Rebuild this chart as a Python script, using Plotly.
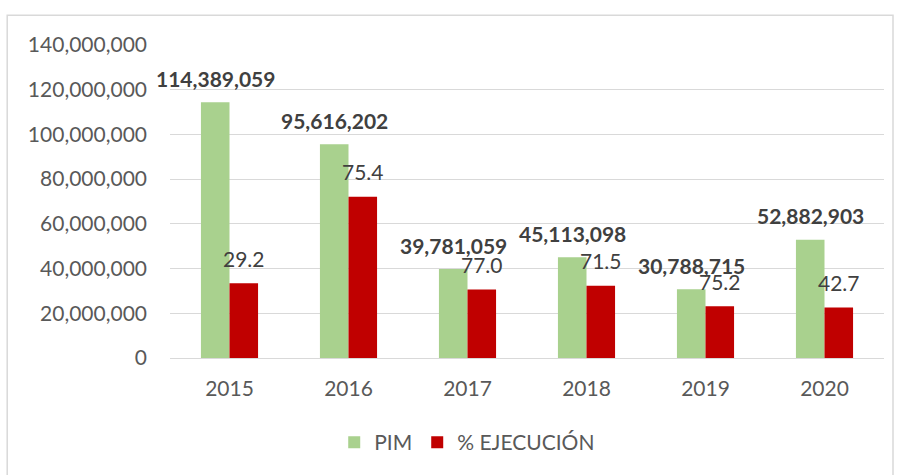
import plotly.graph_objects as go

years = ["2015", "2016", "2017", "2018", "2019", "2020"]
pim = [114389059, 95616202, 39781059, 45113098, 30788715, 52882903]
# executed amounts (red bar heights)
ejec_amount = [33400000, 72100000, 30600000, 32300000, 23200000, 22600000]
ejec_pct = [29.2, 75.4, 77.0, 71.5, 75.2, 42.7]
y_ticks = [0, 20000000, 40000000, 60000000, 80000000, 100000000, 120000000, 140000000]

FONT = "Lato"
GREEN = "#a9d18e"
RED = "#c00000"
TXT = "#595959"
LBL = "#404040"
FS = 21

fig = go.Figure()
fig.add_trace(go.Bar(name="PIM", x=years, y=pim, marker_color=GREEN,
                     marker_line_width=0))
fig.add_trace(go.Bar(name="% EJECUCIÓN", x=years, y=ejec_amount, marker_color=RED,
                     marker_line_width=0))

anns = []
for i, yr in enumerate(years):
    anns.append(dict(x=i, y=pim[i], xref="x", yref="y", text=f"<b>{pim[i]:,}</b>",
                     showarrow=False, xshift=-14.5, yshift=24, yanchor="middle",
                     font=dict(family=FONT, size=FS, color=LBL)))
    anns.append(dict(x=i, y=ejec_amount[i], xref="x", yref="y", text=f"{ejec_pct[i]:.1f}",
                     showarrow=False, xshift=14.5, yshift=25, yanchor="middle",
                     font=dict(family=FONT, size=FS, color=LBL)))

fig.update_layout(
    width=901, height=475,
    margin=dict(l=170, r=17, t=45, b=115),
    paper_bgcolor="white", plot_bgcolor="white",
    barmode="group", bargap=0.52, bargroupgap=0,
    font=dict(family=FONT, size=FS, color=TXT),
    showlegend=True,
    legend=dict(orientation="h", x=0.23, xanchor="left", y=-0.27, yanchor="middle",
                font=dict(family=FONT, size=FS, color=TXT), itemwidth=30,
                traceorder="normal"),
    annotations=anns,
    shapes=[dict(type="rect", xref="paper", yref="paper", x0=-0.228, x1=1.0126,
                 y0=-0.45, y1=1.095, line=dict(color="#d9d9d9", width=1.5),
                 fillcolor="rgba(0,0,0,0)", layer="below")],
    xaxis=dict(type="category", range=[-0.5, len(years) - 0.5], autorange=False,
               showgrid=False, showline=True, linecolor="#d9d9d9",
               linewidth=1, ticks="", ticklabelstandoff=12,
               tickfont=dict(size=FS, color=TXT)),
    yaxis=dict(range=[0, 140000000], autorange=False, tickvals=y_ticks,
               ticktext=[f"{v:,}" for v in y_ticks],
               showgrid=True, gridcolor="#d9d9d9", gridwidth=1,
               zeroline=True, zerolinecolor="#d9d9d9", zerolinewidth=1,
               showline=False, ticks="", ticklabelstandoff=22,
               tickfont=dict(size=FS, color=TXT)),
)

fig.write_html("out.html", config={"displayModeBar": False},
               post_script="document.body.style.margin='0';")
